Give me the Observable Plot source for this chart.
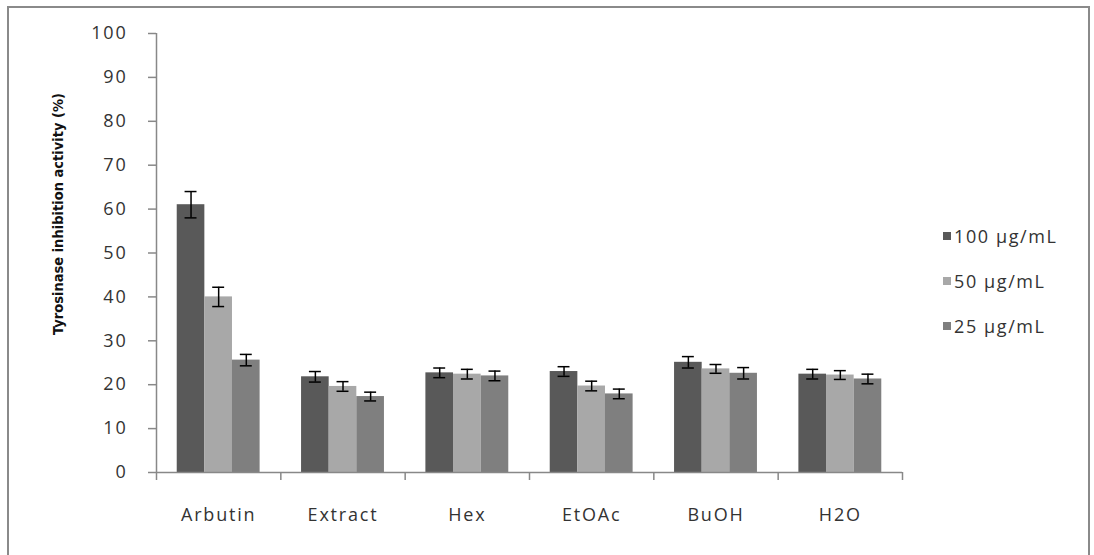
<!DOCTYPE html>
<html>
<head>
<meta charset="utf-8">
<script src="https://cdn.jsdelivr.net/npm/d3@7"></script>
<script src="https://cdn.jsdelivr.net/npm/@observablehq/plot@0.6"></script>
<style>
  html, body { margin: 0; padding: 0; background: #fff; }
  #wrap { position: relative; width: 1094px; height: 555px; overflow: hidden; }
  #frame { position: absolute; left: 7px; top: 6px; width: 1083px; height: 600px; border: 2px solid #8a8a8a; box-sizing: border-box; }
  #chart { position: absolute; left: 0; top: 0; }
  #chart g[font-weight="bold"] { letter-spacing: 0px; }
  #legend { position: absolute; left: 943px; top: 224px; }
  #legend .lg-swatches { font-family: "Open Sans", sans-serif; font-size: 18px; letter-spacing: 1.6px; color: #333; margin: 0; }
  #legend .lg-swatch { margin: 0 0 21px 0; padding: 0; line-height: 24px; display: flex; align-items: center; }
  #legend .lg-swatch > svg { margin-right: 3px; }
</style>
</head>
<body>
<div id="wrap">
  <div id="frame"></div>
  <div id="chart"></div>
  <div id="legend"></div>
</div>
<script>
// ---- data ----
const categories = ["Arbutin", "Extract", "Hex", "EtOAc", "BuOH", "H2O"];
const seriesNames = ["100 µg/mL", "50 µg/mL", "25 µg/mL"];
const seriesColors = ["#595959", "#a8a8a8", "#7f7f7f"];
const values100 = [61.0, 21.8, 22.7, 23.0, 25.1, 22.4];
const values50  = [40.0, 19.6, 22.4, 19.7, 23.6, 22.2];
const values25  = [25.6, 17.3, 22.0, 17.9, 22.6, 21.3];
const errors100 = [3.0, 1.2, 1.1, 1.1, 1.3, 1.1];
const errors50  = [2.2, 1.1, 1.1, 1.1, 1.0, 1.0];
const errors25  = [1.3, 1.0, 1.1, 1.1, 1.3, 1.1];
const yTicks = [0, 10, 20, 30, 40, 50, 60, 70, 80, 90, 100];
const yTitle = "Tyrosinase inhibition activity (%)";

// ---- build table ----
const seriesValues = [values100, values50, values25];
const seriesErrors = [errors100, errors50, errors25];
const rows = [];
categories.forEach((c, i) => {
  seriesNames.forEach((s, j) => {
    rows.push({category: c, ci: i, series: s, sj: j, value: seriesValues[j][i], err: seriesErrors[j][i]});
  });
});
// each category occupies one unit; the 3 bars fill the middle two thirds
const barW = 2 / 9;
const left = d => d.ci + 1 / 6 + d.sj * barW;
const center = d => left(d) + barW / 2;
const capHalf = 0.048;

const chart = Plot.plot({
  width: 1094,
  height: 555,
  marginLeft: 156,
  marginRight: 192,
  marginTop: 33,
  marginBottom: 83,
  x: {domain: [0, categories.length], axis: null, label: null},
  y: {domain: [0, 100], axis: null, label: null},
  color: {domain: seriesNames, range: seriesColors},
  style: {fontFamily: "'Open Sans', sans-serif", fontSize: "18px", letterSpacing: "1.8px", background: "transparent", overflow: "visible"},
  marks: [
    Plot.rectY(rows, {x1: left, x2: d => left(d) + barW, y: "value", fill: "series", inset: 0}),
    Plot.ruleX(rows, {x: center, y1: d => d.value - d.err, y2: d => d.value + d.err, stroke: "#000", strokeWidth: 1.5}),
    Plot.ruleY(rows, {y: d => d.value + d.err, x1: d => center(d) - capHalf, x2: d => center(d) + capHalf, stroke: "#000", strokeWidth: 1.5}),
    Plot.ruleY(rows, {y: d => d.value - d.err, x1: d => center(d) - capHalf, x2: d => center(d) + capHalf, stroke: "#000", strokeWidth: 1.5}),
    Plot.ruleX([0], {stroke: "#888", strokeWidth: 1.5}),
    Plot.ruleY([0], {stroke: "#888", strokeWidth: 1.5}),
    Plot.axisY(yTicks, {tickSize: 8, tickPadding: 21, stroke: "#888", fill: "#333", strokeWidth: 1.5, label: null}),
    Plot.axisX(d3.range(categories.length + 1), {tickSize: 8, stroke: "#888", strokeWidth: 1.5, tickFormat: () => "", label: null}),
    Plot.axisX(categories.map((c, i) => i + 0.5), {tickSize: 0, tickPadding: 36, fill: "#333", label: null, tickFormat: v => categories[Math.floor(v)]}),
    Plot.text([yTitle], {frameAnchor: "left", textAnchor: "middle", rotate: -90, dx: -98, dy: -39, fontWeight: "bold", fontSize: 14.5, fill: "#111",
      fontFamily: "'Liberation Sans Narrow', 'DejaVu Sans Condensed', sans-serif"})
  ]
});
document.getElementById("chart").appendChild(chart);

const legend = Plot.legend({
  color: {domain: seriesNames, range: seriesColors},
  legend: "swatches",
  columns: 1,
  swatchSize: 8,
  className: "lg"
});
document.getElementById("legend").appendChild(legend);
</script>
</body>
</html>
